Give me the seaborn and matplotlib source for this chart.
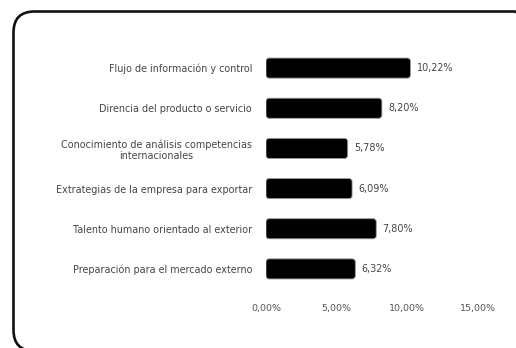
import matplotlib
matplotlib.use("Agg")
import matplotlib.pyplot as plt
from matplotlib.patches import FancyBboxPatch
from matplotlib.transforms import IdentityTransform
import seaborn as sns
import pandas as pd

categories = [
    "Flujo de información y control",
    "Direncia del producto o servicio",
    "Conocimiento de análisis competencias\ninternacionales",
    "Extrategias de la empresa para exportar",
    "Talento humano orientado al exterior",
    "Preparación para el mercado externo",
]
values = [10.22, 8.20, 5.78, 6.09, 7.80, 6.32]
x_ticks = [0, 5, 10, 15]

df = pd.DataFrame({"categoria": categories, "valor": values})

sns.set_theme(style="white")
plt.rcParams["font.family"] = ["DejaVu Sans"]

fig = plt.figure(figsize=(5.16, 3.48), dpi=100)
ax = fig.add_axes([266 / 516, 1 - 289 / 348, (478 - 266) / 516, (289 - 48) / 348])

sns.barplot(data=df, x="valor", y="categoria", ax=ax, color="black",
            width=0.5, saturation=1, orient="h")

# swap the plain rectangles for slightly rounded ones
for p in list(ax.patches):
    x0, y0 = p.get_x(), p.get_y()
    w, h = p.get_width(), p.get_height()
    rb = FancyBboxPatch((x0, y0), w, h,
                        boxstyle="round,pad=0,rounding_size=0.22",
                        mutation_aspect=0.35, facecolor="black",
                        edgecolor="#9a9a9a", linewidth=0.6, zorder=3)
    p.remove()
    ax.add_patch(rb)

ax.set_xlim(0, 15)
ax.set_ylim(len(categories) - 0.5, -0.5)
ax.set_xticks(x_ticks)
ax.set_xticklabels([f"{t:.2f}%".replace(".", ",") for t in x_ticks])
ax.set_xlabel("")
ax.set_ylabel("")
for s in ax.spines.values():
    s.set_visible(False)
ax.tick_params(axis="x", length=0, pad=11, labelsize=6.8, labelcolor="#555555")
ax.tick_params(axis="y", length=0, pad=10, labelsize=6.9, labelcolor="#444444")
for lbl in ax.get_yticklabels():
    lbl.set_multialignment("center")

for i, v in enumerate(values):
    ax.text(v + 0.45, i, f"{v:.2f}%".replace(".", ","), va="center", ha="left",
            fontsize=6.9, color="#444444")

# rounded frame around the chart
frame = FancyBboxPatch((13.5, -3), 522, 339.5,
                       boxstyle="round,pad=0,rounding_size=21",
                       transform=IdentityTransform(), facecolor="none",
                       edgecolor="#111111", linewidth=1.9)
fig.add_artist(frame)

fig.savefig("out.png", dpi=100)
